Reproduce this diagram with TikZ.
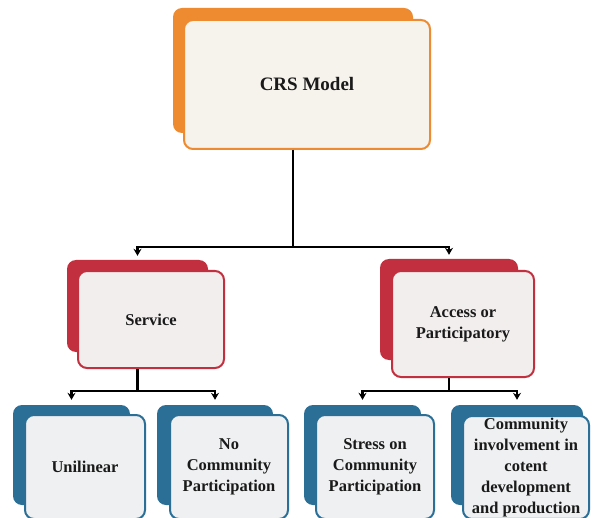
\documentclass[tikz,border=0pt]{standalone}
\usepackage{fontspec}
\setmainfont{Liberation Serif}
\usetikzlibrary{arrows.meta}
\definecolor{orA}{HTML}{EE8A2F}
\definecolor{orF}{HTML}{F6F2EC}
\definecolor{rdA}{HTML}{C2303F}
\definecolor{rdF}{HTML}{F2EEEE}
\definecolor{blA}{HTML}{2B6F96}
\definecolor{blF}{HTML}{EEF0F1}
\definecolor{txt}{HTML}{1A1A1A}
\tikzset{
  backbox/.style={rounded corners=9pt, inner sep=0pt},
  frontbox/.style={rounded corners=9pt, inner sep=2pt, line width=2pt, align=center,
    text=txt, font=\bfseries\fontsize{16.5}{21}\selectfont},
  conn/.style={line width=2.6pt, black},
  arr/.style={conn, -{Stealth[length=7pt,width=8pt]}},
}
\begin{document}
\begin{tikzpicture}[x=1pt,y=-1pt]
\useasboundingbox (0,0) rectangle (596,518);
\fill[white] (0,0) rectangle (596,518);
% top
\node[backbox, fill=orA, minimum width=240pt, minimum height=125pt] (crsb) at (293,70.5) {};
\node[frontbox, draw=orA, fill=orF, minimum width=246pt, minimum height=129pt,
  font=\bfseries\fontsize{19}{23}\selectfont] (crs) at (307,84.5) {CRS Model};
% second level
\node[backbox, fill=rdA, minimum width=141pt, minimum height=92pt] (srvb) at (137.5,306) {};
\node[frontbox, draw=rdA, fill=rdF, minimum width=146pt, minimum height=97pt] (srv) at (151,319.5) {Service};
\node[backbox, fill=rdA, minimum width=138pt, minimum height=101pt] (accb) at (449,309.5) {};
\node[frontbox, draw=rdA, fill=rdF, minimum width=142pt, minimum height=106pt] (acc) at (463,324) {Access or\\Participatory};
% third level
\node[backbox, fill=blA, minimum width=117pt, minimum height=100pt] (unib) at (71.5,455) {};
\node[frontbox, draw=blA, fill=blF, minimum width=120pt, minimum height=104pt] (uni) at (85,467) {Unilinear};
\node[backbox, fill=blA, minimum width=116pt, minimum height=100pt] (nocb) at (215,455) {};
\node[frontbox, draw=blA, fill=blF, minimum width=118pt, minimum height=104pt] (noc) at (229,467) {No\\Community\\Participation};
\node[backbox, fill=blA, minimum width=117pt, minimum height=100pt] (strb) at (362.5,455) {};
\node[frontbox, draw=blA, fill=blF, minimum width=118pt, minimum height=104pt] (str) at (375,467) {Stress on\\Community\\Participation};
\node[backbox, fill=blA, minimum width=132pt, minimum height=100pt] (comb) at (517,455) {};
\node[frontbox, draw=blA, fill=blF, minimum width=126pt, minimum height=99pt] (com) at (526,467.5) {Community\\involvement in\\cotent\\development\\and production};
% connectors
\coordinate (j1) at (293,247);
\draw[conn] (crsb |- crs.south) -- (j1);
\draw[arr, shorten >=4pt] (j1) -| (srvb.north);
\draw[arr, shorten >=4pt] (j1) -| (accb.north);
\coordinate (j2) at (137.5,391);
\draw[conn] (srvb |- srv.south) -- (j2);
\draw[arr, shorten >=5pt] (j2) -| (unib.north);
\draw[arr, shorten >=5pt] (j2) -| (nocb.north);
\coordinate (j3) at (449,391);
\draw[conn] (accb |- acc.south) -- (j3);
\draw[arr, shorten >=5pt] (j3) -| (strb.north);
\draw[arr, shorten >=5pt] (j3) -| (comb.north);
\end{tikzpicture}
\end{document}
